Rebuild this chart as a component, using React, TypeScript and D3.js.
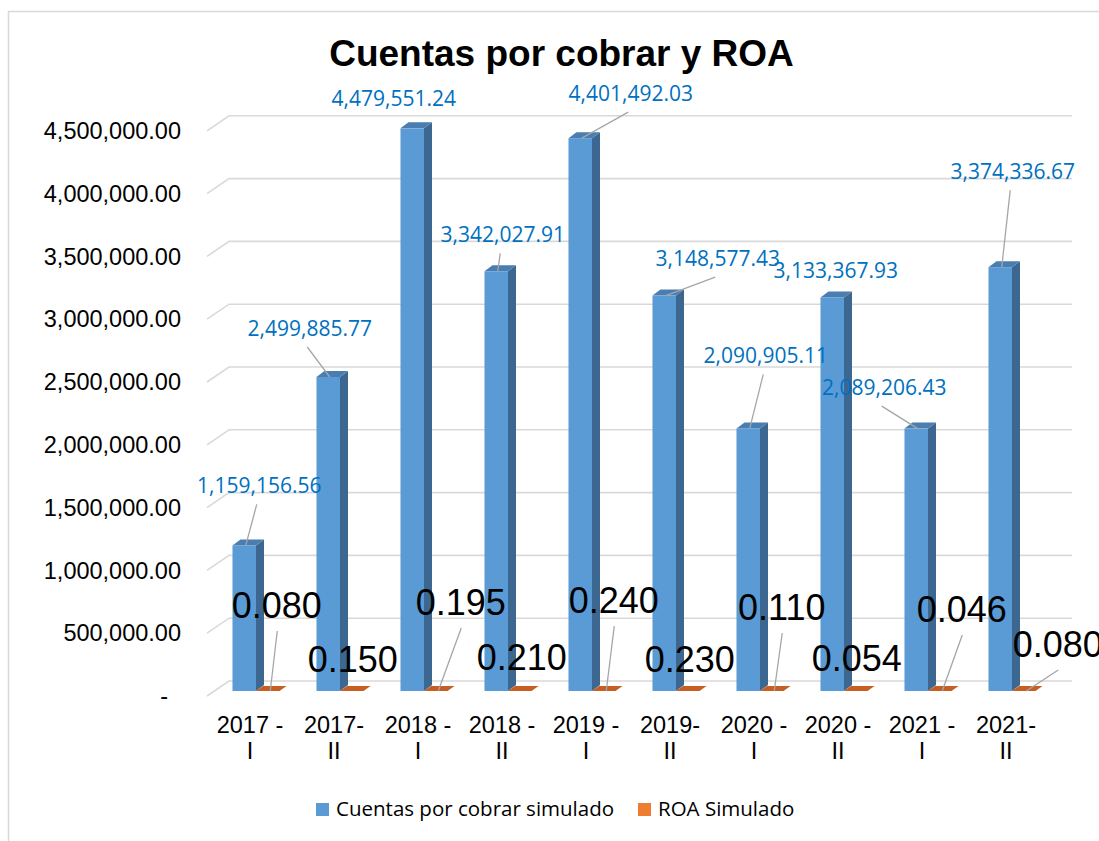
import React, { useEffect, useRef } from "react";
import * as d3 from "d3";

// chart data
const categories = [
  "2017 - I", "2017- II", "2018 - I", "2018 - II", "2019 - I",
  "2019- II", "2020 - I", "2020 - II", "2021 - I", "2021- II",
];
const cuentasPorCobrar = [
  1159156.56, 2499885.77, 4479551.24, 3342027.91, 4401492.03,
  3148577.43, 2090905.11, 3133367.93, 2089206.43, 3374336.67,
];
const roa = [0.08, 0.15, 0.195, 0.21, 0.24, 0.23, 0.11, 0.054, 0.046, 0.08];
const yTicks = [0, 500000, 1000000, 1500000, 2000000, 2500000, 3000000, 3500000, 4000000, 4500000];
const seriesNames = ["Cuentas por cobrar simulado", "ROA Simulado"];

// manual label placement (as dragged in the original), [dx, dy, leader]
const blueLabelPos: [number, number, boolean][] = [
  [15, -52, true], [-18.5, -41, true], [-18.5, -22, false], [6.5, -29, true], [50.5, -37, true],
  [53.5, -29.5, true], [17.5, -65, true], [3.5, -19.5, false], [-32, -33.5, true], [12.5, -88, true],
];
const roaLabelPos: [number, number, boolean][] = [
  [9, -73, true], [1, -19, false], [25, -76, true], [2, -21, false], [10, -78, true],
  [2, -19, false], [10, -71, true], [1, -20, false], [22, -69, true], [34, -34, true],
];

const W = 1099, H = 841;
const FLOOR = 691;
const DEPTH = { dx: 8, dy: -6 };

const App = () => {
  const ref = useRef<SVGSVGElement>(null);

  useEffect(() => {
    if (!ref.current) return;
    const svg = d3.select(ref.current);
    svg.selectAll("*").remove();

    const arial = "'Liberation Sans', Arial, sans-serif";
    const calibri = "'Open Sans', 'Noto Sans', sans-serif";

    // frame
    svg.append("rect").attr("x", 8.5).attr("y", 11.5).attr("width", 1200).attr("height", 900)
      .attr("fill", "white").attr("stroke", "#d9d9d9").attr("stroke-width", 1.5);

    const y = d3.scaleLinear().domain([0, 4500000]).range([FLOOR, FLOOR - 4.5 * 125.6]);
    const x = d3.scaleBand().domain(categories).range([214, 1054]).paddingInner(0.44).paddingOuter(0.22);
    const xs = d3.scaleBand().domain(seriesNames).range([0, x.bandwidth()]);

    // title
    svg.append("text").attr("x", 561.5).attr("y", 66).attr("text-anchor", "middle")
      .style("font-family", arial).style("font-weight", "bold").style("font-size", "37px")
      .text("Cuentas por cobrar y ROA");

    // gridlines with 3D slant on the side wall
    const grid = svg.append("g");
    yTicks.forEach(t => {
      const yf = y(t) + 5, yb = y(t) - 10;
      grid.append("path")
        .attr("d", `M207,${yf}L229,${yb}L1072,${yb}`)
        .attr("fill", "none").attr("stroke", "#d9d9d9").attr("stroke-width", 1.6);
      grid.append("text")
        .attr("x", t === 0 ? 168 : 181).attr("y", yf).attr("dy", "0.35em")
        .attr("text-anchor", "end")
        .style("font-family", arial).style("font-size", "23.5px").attr("fill", "#000")
        .text(t === 0 ? "-" : d3.format(",.2f")(t));
    });

    // x labels
    categories.forEach(c => {
      const cx = (x(c) as number) + x.bandwidth() / 2 - 6;
      const idx = c.lastIndexOf(" ");
      const lines = [c.slice(0, idx), c.slice(idx + 1)];
      lines.forEach((ln, j) => {
        svg.append("text").attr("x", cx).attr("y", 733 + j * 26).attr("text-anchor", "middle")
          .style("font-family", arial).style("font-size", "23.5px").text(ln);
      });
    });

    // bars
    const bars = svg.append("g");
    categories.forEach((c, i) => {
      const bx = (x(c) as number) + (xs(seriesNames[0]) as number);
      const w = xs.bandwidth();
      const top = y(cuentasPorCobrar[i]);
      const { dx, dy } = DEPTH;
      bars.append("polygon")
        .attr("points", [[bx + w, top], [bx + w + dx, top + dy], [bx + w + dx, FLOOR + dy], [bx + w, FLOOR]].join(" "))
        .attr("fill", "#3b6791");
      bars.append("polygon")
        .attr("points", [[bx, top], [bx + dx, top + dy], [bx + w + dx, top + dy], [bx + w, top]].join(" "))
        .attr("fill", "#4a7db0");
      bars.append("rect").attr("x", bx).attr("y", top).attr("width", w).attr("height", FLOOR - top)
        .attr("fill", "#5b9bd5");

      const ox = (x(c) as number) + (xs(seriesNames[1]) as number);
      const otop = y(roa[i]);
      bars.append("polygon")
        .attr("points", [[ox, otop], [ox + 7, otop - 5], [ox + w + 7, otop - 5], [ox + w, otop]].join(" "))
        .attr("fill", "#c55f24");
    });

    // blue data labels
    const labels = svg.append("g");
    categories.forEach((c, i) => {
      const ax = (x(c) as number) + (xs(seriesNames[0]) as number) + xs.bandwidth() / 2;
      const ay = y(cuentasPorCobrar[i]);
      const [dx, dy, lead] = blueLabelPos[i];
      const lx = ax + dx, ly = ay + dy;
      if (lead) {
        labels.append("line").attr("x1", ax + 1.5).attr("y1", ay).attr("x2", lx - 2.5).attr("y2", ly + 11)
          .attr("stroke", "#a6a6a6").attr("stroke-width", 1.3);
      }
      labels.append("text").attr("x", lx).attr("y", ly).attr("text-anchor", "middle")
        .style("font-family", calibri).style("font-size", "21px").attr("fill", "#0070c0")
        .text(d3.format(",.2f")(cuentasPorCobrar[i]));
    });

    // ROA labels
    categories.forEach((c, i) => {
      const ax = (x(c) as number) + (xs(seriesNames[1]) as number) + xs.bandwidth() / 2;
      const ay = y(roa[i]);
      const [dx, dy, lead] = roaLabelPos[i];
      const lx = ax + dx, ly = ay + dy;
      if (lead) {
        labels.append("line").attr("x1", ax + 2.5).attr("y1", ay).attr("x2", lx + 0.5).attr("y2", ly + 13)
          .attr("stroke", "#a6a6a6").attr("stroke-width", 1.3);
      }
      labels.append("text").attr("x", lx).attr("y", ly).attr("text-anchor", "middle")
        .style("font-family", arial).style("font-size", "36px").attr("fill", "#000")
        .text(d3.format(".3f")(roa[i]));
    });

    // legend
    const legendColors = ["#5b9bd5", "#ed7d31"];
    const legendX = [316, 638];
    seriesNames.forEach((s, i) => {
      const g = svg.append("g").attr("transform", `translate(${legendX[i]},803)`);
      g.append("rect").attr("width", 13).attr("height", 13).attr("fill", legendColors[i]);
      g.append("text").attr("x", 20).attr("y", 13)
        .style("font-family", calibri).style("font-size", "20.5px").attr("fill", "#000").text(s);
    });
  }, []);

  return (
    <svg ref={ref} width={W} height={H}
      style={{ position: "absolute", left: 0, top: 0, background: "white", display: "block" }} />
  );
};

export default App;
